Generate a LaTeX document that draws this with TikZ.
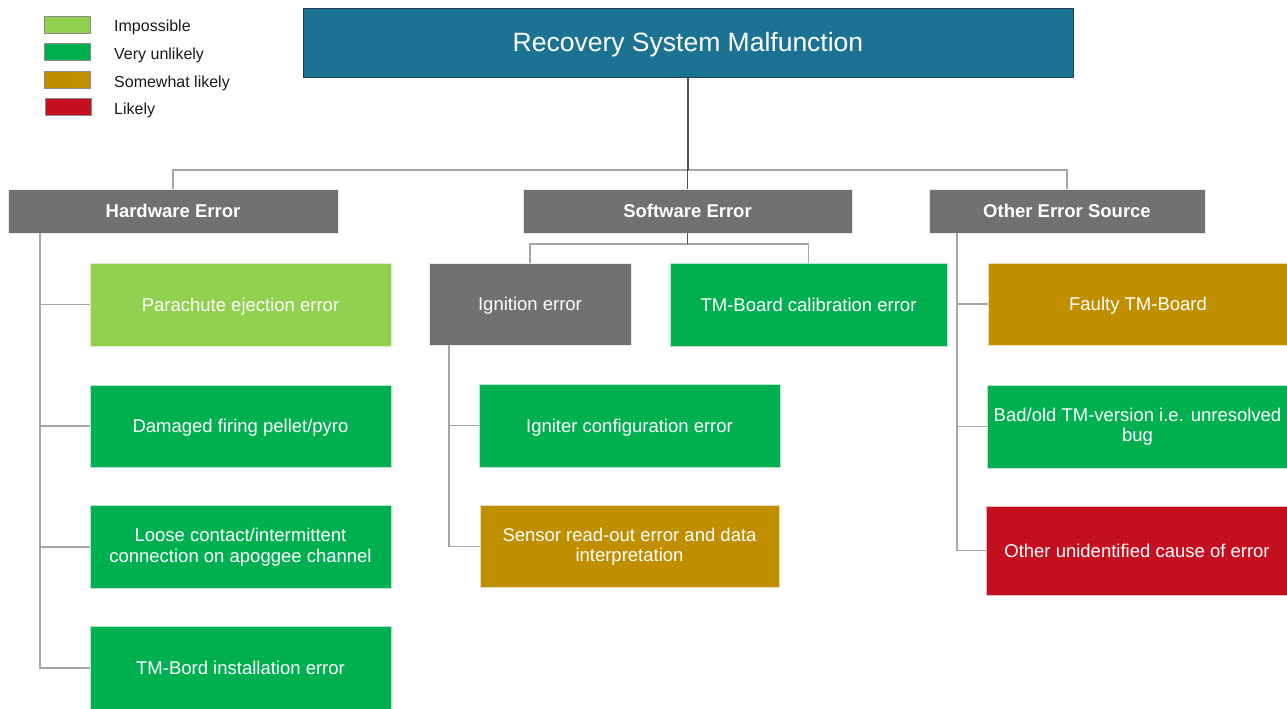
\documentclass[tikz,border=0pt]{standalone}
\usepackage{fontspec}
\setmainfont{Liberation Sans}
\definecolor{titleblue}{HTML}{1B7293}
\definecolor{titleedge}{HTML}{23404E}
\definecolor{boxgray}{HTML}{717171}
\definecolor{lgreen}{HTML}{92D050}
\definecolor{vgreen}{HTML}{00B050}
\definecolor{gold}{HTML}{BF8F00}
\definecolor{dred}{HTML}{C40F20}
\definecolor{linegray}{HTML}{A6A6A6}
\definecolor{darkline}{HTML}{505050}
\definecolor{swatchedge}{HTML}{8C8C8C}
\tikzset{
  x=1pt, y=-1pt,
  conn/.style={draw=linegray, line width=1.5pt},
  darkconn/.style={draw=darkline, line width=1.5pt},
  basebox/.style={rectangle, inner sep=0pt, text=white, align=center,
    font=\fontsize{18.5}{20.5}\selectfont},
  oneline/.style={text height=15pt, text depth=2pt},
  catbox/.style={basebox, oneline, fill=boxgray, draw=white!85!boxgray, line width=0.6pt,
    minimum height=44, font=\fontsize{18.5}{20.5}\selectfont\bfseries},
  leafbox/.style={basebox, draw=white!70!#1, line width=0.6pt, fill=#1},
  swatch/.style={rectangle, inner sep=0pt, fill=#1, draw=swatchedge, line width=0.8pt,
    minimum width=46, minimum height=17},
  legtext/.style={anchor=west, inner sep=0pt, text height=13pt, text depth=1.5pt,
    font=\fontsize{16}{18}\selectfont, text=black!90}
}
\begin{document}
\begin{tikzpicture}
\useasboundingbox (0,0) rectangle (1287,709);
% legend
\node[swatch=lgreen] (s1) at (67,24.5) {};
\node[swatch=vgreen] (s2) at (67,51.5) {};
\node[swatch=gold]   (s3) at (67,79.5) {};
\node[swatch=dred]   (s4) at (68,107) {};
\node[legtext] (l1) at (114,25.5) {Impossible};
\node[legtext] (l2) at (114,53.5) {Very unlikely};
\node[legtext] (l3) at (114,81.5) {Somewhat likely};
\node[legtext] (l4) at (114,108.5) {Likely};
% title
\node[basebox, fill=titleblue, draw=titleedge, line width=0.8pt, minimum width=770, minimum height=69,
  text height=20.5pt, text depth=2.5pt,
  font=\fontsize{26.5}{28}\selectfont] (title) at (688,42.5) {Recovery System Malfunction};
% categories
\node[catbox, minimum width=330] (hw) at (173,211) {Hardware Error};
\node[catbox, minimum width=329] (sw) at (687.5,211) {Software Error};
\node[catbox, minimum width=276] (oe) at (1067,211) {Other Error Source};
% hardware leaves
\node[leafbox=lgreen, oneline, minimum width=301, minimum height=83] (pe) at (240.5,304.5) {Parachute ejection error};
\node[leafbox=vgreen, oneline, minimum width=301, minimum height=82] (dp) at (240.5,426) {Damaged firing pellet/pyro};
\node[leafbox=vgreen, minimum width=301, minimum height=83] (lc) at (240.5,547) {Loose contact/intermittent\\connection on apoggee channel};
\node[leafbox=vgreen, oneline, minimum width=301, minimum height=84] (tb) at (240.5,668) {TM-Bord installation error};
% software leaves
\node[catbox, minimum width=202, minimum height=82, font=\fontsize{18.5}{20.5}\selectfont] (ig) at (530,304) {Ignition error};
\node[leafbox=vgreen, oneline, minimum width=277, minimum height=83] (tc) at (808.5,304.5) {TM-Board calibration error};
\node[leafbox=vgreen, oneline, minimum width=301, minimum height=83] (ic) at (629.5,425.5) {Igniter configuration error};
\node[leafbox=gold, minimum width=299, minimum height=82] (sr) at (629.5,546.5) {Sensor read-out error and data\\interpretation};
% other leaves
\node[leafbox=gold, oneline, minimum width=300, minimum height=82] (ft) at (1138,304) {Faulty TM-Board};
\node[leafbox=vgreen, minimum width=301, minimum height=83] (bo) at (1137.5,426.5) {Bad/old TM-version i.e. unresolved\\bug};
\node[leafbox=dred, oneline, minimum width=302, minimum height=89] (ou) at (1137,550.5) {Other unidentified cause of error};
% helper coordinates
\coordinate (bar) at (0,170);
\coordinate (sbar) at (0,244);
\coordinate (hwt) at (40,0);
\coordinate (igt) at (449,0);
\coordinate (oet) at (957,0);
% top connectors
\draw[conn] (hw.north) -- (hw.north |- bar) -- (oe.north |- bar) -- (oe.north);
\draw[darkconn] (title.south) -- (title.south |- bar);
\draw[darkconn] (sw.north) -- (sw.north |- bar);
% software sub-connectors
\draw[conn] (ig.north) -- (ig.north |- sbar) -- (tc.north |- sbar) -- (tc.north);
\draw[darkconn] (sw.south) -- (sw.south |- sbar);
% hardware trunk
\draw[conn] (hwt |- hw.south) |- (pe.west);
\draw[conn] (hwt |- hw.south) |- (dp.west);
\draw[conn] (hwt |- hw.south) |- (lc.west);
\draw[conn] (hwt |- hw.south) |- (tb.west);
% ignition trunk
\draw[conn] (igt |- ig.south) |- (ic.west);
\draw[conn] (igt |- ig.south) |- (sr.west);
% other trunk
\draw[conn] (oet |- oe.south) |- (ft.west);
\draw[conn] (oet |- oe.south) |- (bo.west);
\draw[conn] (oet |- oe.south) |- (ou.west);
\end{tikzpicture}
\end{document}
